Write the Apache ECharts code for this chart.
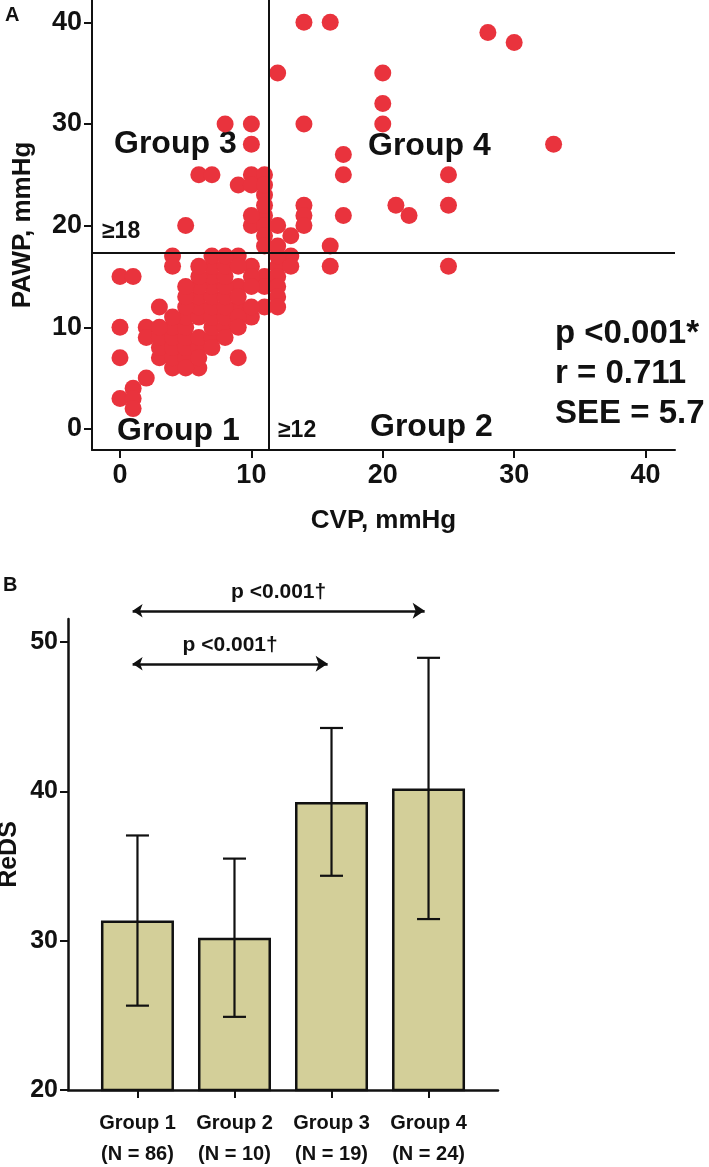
<!DOCTYPE html>
<html><head><meta charset="utf-8">
<script src="https://cdn.jsdelivr.net/npm/echarts@6/dist/echarts.min.js"></script>
<style>html,body{margin:0;padding:0;background:#fff}#c{width:709px;height:1167px}</style>
</head><body><div id="c"></div>
<script>
// ---------- Panel A data ----------
const cvpTicks = [0, 10, 20, 30, 40];
const pawpTicks = [0, 10, 20, 30, 40];
const cvpCut = 11.3;
const pawpCut = 17.3;
// [CVP, PAWP]
const group1Points = [
  [0,15],[1,15],[0,10],[0,7],[0,3],[1,4],[1,3],[1,2],[2,5],[2,10],[2,9],[3,12],[4,17],[4,16],
  [9,7],[6,6],[4,6],[3,7],[10,11],[11,12],[9,17],[10,16],[11,15],[11,14],[9,14],[9,12],[10,15],
  [3,8],[3,9],[4,7],[4,8],[4,9],[4,10],[5,7],[5,8],[5,9],[5,10],[5,11],[6,8],[6,9],[6,11],
  [6,12],[6,13],[7,9],[7,10],[7,11],[7,12],[7,13],[7,14],[7,15],[7,16],[8,10],[8,11],[8,12],
  [8,13],[8,14],[8,15],[8,16],[9,13],[9,16],[6,14],[6,15],[6,16],[5,12],[5,13],[8,9],[10,14],
  [5,6],[6,7],[7,8],[4,11],[3,10],[9,11],[10,12],[7,17],[8,17],[5,14],[9,10]
];
const group2Points = [[13,17],[12,16],[12,15],[12,14],[16,16],[25,16],[12,17],[13,16],[12,13],[12,12]];
const group3Points = [
  [8,30],[10,30],[10,28],[6,25],[7,25],[10,25],[11,25],[9,24],[10,24],[11,23],[11,21],[10,20],
  [11,20],[5,20],[11,19],[11,18],[11,24],[11,22],[10,21]
];
const group4Points = [
  [14,40],[16,40],[28,39],[30,38],[12,35],[20,35],[20,32],[20,30],[14,30],[33,28],[17,27],[17,25],
  [25,25],[21,22],[22,21],[25,22],[17,21],[14,22],[14,21],[14,20],[16,18],[12,20],[13,19],[12,18]
];
const statsLines = ['p <0.001*', 'r = 0.711', 'SEE = 5.7'];

// ---------- Panel B data ----------
const barCategories = ['Group 1', 'Group 2', 'Group 3', 'Group 4'];
const barN = [86, 10, 19, 24];
const redsMean = [31.35, 30.2, 39.3, 40.2];
const redsSD = [5.7, 5.3, 4.95, 8.75];
const redsTicks = [20, 30, 40, 50];
const comparisons = [
  { from: 0, to: 2, label: 'p <0.001\u2020', level: 48.55 },
  { from: 0, to: 3, label: 'p <0.001\u2020', level: 52.1 }
];

const F = '"Liberation Sans", Arial, Helvetica, sans-serif';
const FN = '"Liberation Sans Narrow", "Arial Narrow", "Liberation Sans", Arial, sans-serif';
const BLACK = '#111';
const RED = '#e9333d';

const scatterPoints = group1Points.concat(group2Points, group3Points, group4Points);

function txt(text, x, y, size, font, extra) {
  return Object.assign({
    type: 'text', x: x, y: y, silent: true,
    style: { text: text, font: 'bold ' + size + 'px ' + (font || F), fill: BLACK,
      align: 'left', verticalAlign: 'middle', textAlign: 'left', textVerticalAlign: 'middle' }
  }, extra || {});
}

const chart = echarts.init(document.getElementById('c'), null, { renderer: 'canvas' });

const axisLineStyle = { onZero: false, lineStyle: { color: BLACK, width: 2 } };

const option = {
  animation: false,
  backgroundColor: '#fff',
  grid: [
    { left: 92, top: 0, width: 583, height: 450, containLabel: false, outerBoundsMode: 'none' },
    { left: 68, top: 619, width: 430, height: 471, containLabel: false, outerBoundsMode: 'none' },
    { left: 68, top: 1090 - 36 * (471 / 31.55), width: 430, height: 36 * (471 / 31.55), containLabel: false, outerBoundsMode: 'none' }
  ],
  xAxis: [
    {
      gridIndex: 0, type: 'value', min: -2.13, max: 42.24,
      name: 'CVP, mmHg', nameLocation: 'middle', nameGap: 58,
      nameTextStyle: { fontFamily: F, fontWeight: 'bold', fontSize: 26, color: BLACK },
      axisLine: axisLineStyle,
      axisTick: { show: true, length: 8, lineStyle: { color: BLACK, width: 2 }, customValues: cvpTicks },
      axisLabel: { customValues: cvpTicks, margin: 12, fontFamily: F, fontWeight: 'bold', fontSize: 27, color: BLACK },
      splitLine: { show: false }
    },
    {
      gridIndex: 1, type: 'value', min: -0.716, max: 3.716,
      axisLine: { onZero: false, lineStyle: { color: BLACK, width: 2.5 } },
      axisTick: { show: true, length: 8, lineStyle: { color: BLACK, width: 2 }, customValues: [0, 1, 2, 3] },
      axisLabel: {
        customValues: [0, 1, 2, 3], margin: 18,
        formatter: function (v) { const i = Math.round(v); return '{a|' + barCategories[i] + '}\n{a|(N = ' + barN[i] + ')}'; },
        rich: { a: { fontFamily: FN, fontWeight: 'bold', fontSize: 20, color: BLACK, lineHeight: 31 } }
      },
      splitLine: { show: false }
    },
    { gridIndex: 2, type: 'value', min: -0.716, max: 3.716, show: false }
  ],
  yAxis: [
    {
      gridIndex: 0, type: 'value', min: -2.07, max: 42.19,
      name: 'PAWP, mmHg', nameLocation: 'middle', nameGap: 56,
      nameTextStyle: { fontFamily: F, fontWeight: 'bold', fontSize: 26, color: BLACK },
      axisLine: axisLineStyle,
      axisTick: { show: true, length: 8, lineStyle: { color: BLACK, width: 2 }, customValues: pawpTicks },
      axisLabel: { customValues: pawpTicks, margin: 10, fontFamily: F, fontWeight: 'bold', fontSize: 27, color: BLACK },
      splitLine: { show: false }
    },
    {
      gridIndex: 1, type: 'value', min: 20, max: 51.55,
      name: 'ReDS', nameLocation: 'middle', nameGap: 46, nameMoveOverlap: false,
      nameTextStyle: { fontFamily: F, fontWeight: 'bold', fontSize: 25, color: BLACK },
      axisLine: { show: true, onZero: false, lineStyle: { color: BLACK, width: 2.5 } },
      axisTick: { show: true, length: 8, lineStyle: { color: BLACK, width: 2 }, customValues: redsTicks },
      axisLabel: { customValues: redsTicks, margin: 10, fontFamily: FN, fontWeight: 'bold', fontSize: 25, color: BLACK },
      splitLine: { show: false }
    },
    { gridIndex: 2, type: 'value', min: 20, max: 56, show: false }
  ],
  series: [
    {
      type: 'scatter', xAxisIndex: 0, yAxisIndex: 0,
      data: scatterPoints, symbol: 'circle', symbolSize: 17,
      itemStyle: { color: RED, opacity: 1 },
      markLine: {
        silent: true, symbol: 'none', animation: false,
        lineStyle: { color: BLACK, width: 2, type: 'solid' },
        label: { show: false },
        data: [{ xAxis: cvpCut }, { yAxis: pawpCut }]
      },
      z: 3
    },
    {
      type: 'bar', xAxisIndex: 1, yAxisIndex: 1,
      data: redsMean.map((m, i) => [i, m]),
      barWidth: 73,
      itemStyle: { color: '#d3cf99', borderColor: BLACK, borderWidth: 2.5 },
      z: 2
    },
    {
      type: 'custom', xAxisIndex: 1, yAxisIndex: 1,
      data: redsMean.map((m, i) => [i, m, redsSD[i]]),
      renderItem: function (params, api) {
        const x = api.value(0), m = api.value(1), sd = api.value(2);
        const top = api.coord([x, m + sd]);
        const bot = api.coord([x, m - sd]);
        const hw = 11.5;
        const st = { stroke: BLACK, lineWidth: 2.2 };
        return {
          type: 'group', children: [
            { type: 'line', shape: { x1: top[0], y1: top[1], x2: bot[0], y2: bot[1] }, style: st },
            { type: 'line', shape: { x1: top[0] - hw, y1: top[1], x2: top[0] + hw, y2: top[1] }, style: st },
            { type: 'line', shape: { x1: bot[0] - hw, y1: bot[1], x2: bot[0] + hw, y2: bot[1] }, style: st }
          ]
        };
      },
      z: 4
    },
    {
      type: 'lines', coordinateSystem: 'cartesian2d', xAxisIndex: 2, yAxisIndex: 2,
      symbol: ['arrow', 'arrow'], symbolSize: [10, 12],
      lineStyle: { color: BLACK, width: 2.5, opacity: 1, curveness: 0 },
      label: {
        show: true, position: 'middle', distance: 8,
        fontFamily: FN, fontWeight: 'bold', fontSize: 21, color: BLACK,
        formatter: function (p) { return p.data.label; }
      },
      data: comparisons.map(c => ({ coords: [[c.from - 0.05, c.level], [c.to - 0.04, c.level]], label: c.label })),
      z: 5
    }
  ],
  graphic: [
    txt('A', 5, 15, 20),
    txt('B', 3, 585, 20),
    txt('Group 3', 114, 144, 32),
    txt('Group 4', 368, 146, 32),
    txt('Group 1', 117, 431, 32),
    txt('Group 2', 370, 427, 32),
    txt('\u226518', 102, 232, 23),
    txt('\u226512', 278, 431, 23),
    txt(statsLines[0], 555, 334, 33),
    txt(statsLines[1], 555, 374, 33),
    txt(statsLines[2], 555, 414, 33)
  ]
};
chart.setOption(option);
</script></body></html>
